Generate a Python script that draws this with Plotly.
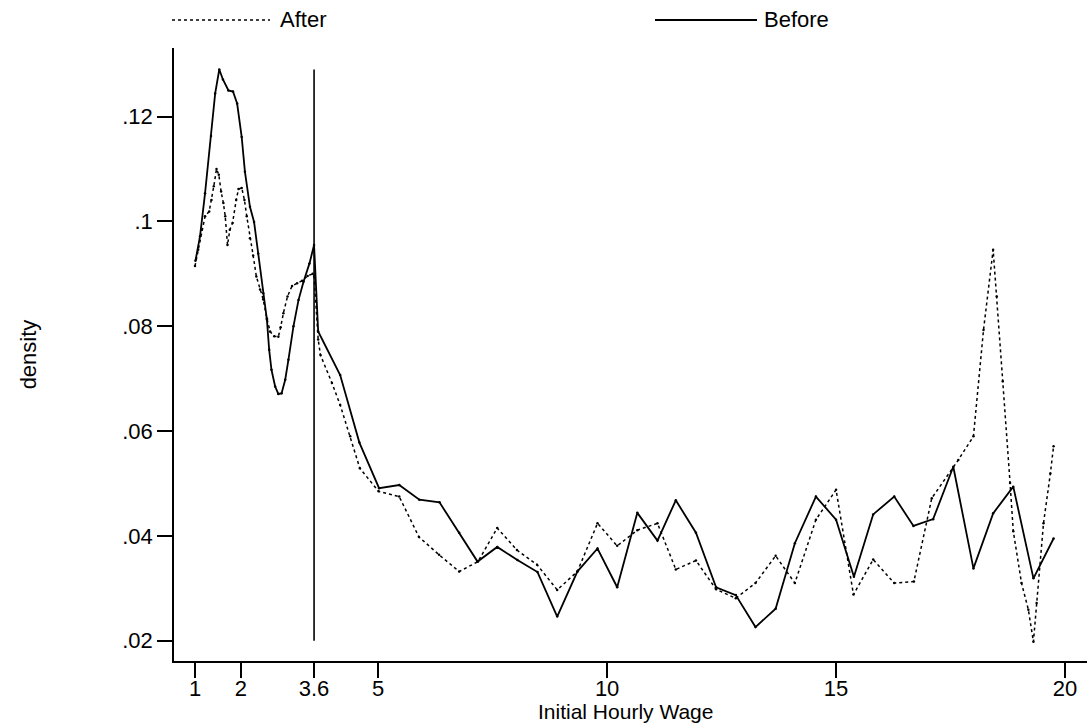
import plotly.graph_objects as go

# Before (solid)
before_x = [1.01, 1.11, 1.22, 1.35, 1.44, 1.53, 1.61, 1.73, 1.83, 1.92, 2.02, 2.09, 2.20, 2.29, 2.38,
            2.49, 2.57, 2.62, 2.67, 2.75, 2.82, 2.89, 2.97, 3.04, 3.15, 3.26, 3.37, 3.50, 3.60,
            3.69, 4.17, 4.59, 5.02, 5.46, 5.90, 6.34, 6.77, 7.17, 7.60, 8.04, 8.48, 8.91, 9.35,
            9.79, 10.22, 10.66, 11.10, 11.50, 11.94, 12.38, 12.81, 13.24, 13.68, 14.10, 14.56,
            15.00, 15.39, 15.81, 16.27, 16.69, 17.12, 17.56, 18.00, 18.43, 18.87, 19.31, 19.75]
before_y = [0.0925, 0.0972, 0.1054, 0.1163, 0.1244, 0.1290, 0.1271, 0.1250, 0.1248, 0.1225, 0.1161,
            0.1095, 0.1028, 0.0999, 0.0939, 0.0863, 0.0813, 0.0755, 0.0717, 0.0685, 0.0671, 0.0672,
            0.0698, 0.0736, 0.0800, 0.0850, 0.0885, 0.0920, 0.0955,
            0.0790, 0.0707, 0.0578, 0.0491, 0.0497, 0.0469, 0.0464, 0.0406, 0.0351, 0.0379, 0.0354,
            0.0331, 0.0246, 0.0332, 0.0376, 0.0302, 0.0444, 0.0391, 0.0468, 0.0406, 0.0302, 0.0287,
            0.0226, 0.0261, 0.0386, 0.0475, 0.0431, 0.0322, 0.0441, 0.0475, 0.0419, 0.0432, 0.0532,
            0.0338, 0.0443, 0.0494, 0.0319, 0.0395]

# After (dashed)
after_x = [1.00, 1.07, 1.15, 1.22, 1.31, 1.36, 1.41, 1.47, 1.52, 1.57, 1.62, 1.66, 1.71, 1.76, 1.82,
           1.90, 1.95, 2.02, 2.08, 2.13, 2.20, 2.27, 2.34, 2.42, 2.49, 2.57, 2.64, 2.73, 2.82, 2.87,
           2.93, 3.02, 3.12, 3.23, 3.34, 3.46, 3.57, 3.60,
           3.69, 3.74, 3.99, 4.17, 4.39, 4.60, 5.01, 5.46, 5.89, 6.33, 6.77, 7.18, 7.60, 8.03, 8.47,
           8.91, 9.35, 9.79, 10.22, 10.66, 11.10, 11.50, 11.94, 12.38, 12.81, 13.24, 13.68, 14.10,
           14.56, 15.00, 15.38, 15.81, 16.27, 16.70, 17.09, 17.67, 18.00, 18.22, 18.43, 18.51,
           18.64, 18.80, 18.87, 19.05, 19.20, 19.31, 19.38, 19.53, 19.68, 19.75]
after_y = [0.0915, 0.0946, 0.0984, 0.1010, 0.1019, 0.1041, 0.1067, 0.1100, 0.1089, 0.1057, 0.1035,
           0.1010, 0.0955, 0.0984, 0.0997, 0.1041, 0.1062, 0.1064, 0.1041, 0.1010, 0.0968, 0.0935,
           0.0895, 0.0870, 0.0851, 0.0815, 0.0790, 0.0781, 0.0780, 0.0798, 0.0825, 0.0857, 0.0877,
           0.0882, 0.0887, 0.0896, 0.0900, 0.0896,
           0.0775, 0.0745, 0.0692, 0.0650, 0.0590, 0.0529, 0.0485, 0.0475, 0.0398, 0.0364, 0.0332,
           0.0351, 0.0415, 0.0373, 0.0345, 0.0297, 0.0332, 0.0424, 0.0381, 0.0411, 0.0424, 0.0336,
           0.0353, 0.0298, 0.0281, 0.0310, 0.0362, 0.0310, 0.0431, 0.0488, 0.0288, 0.0355, 0.0310,
           0.0313, 0.0472, 0.0545, 0.0590, 0.0793, 0.0946, 0.0857, 0.0695, 0.0501, 0.0409, 0.0310,
           0.0259, 0.0198, 0.0272, 0.0424, 0.0519, 0.0571]

cutoff_x = [3.6, 3.6]
cutoff_y = [0.02, 0.129]

x_ticks = [1, 2, 3.6, 5, 10, 15, 20]
x_ticklabels = ["1", "2", "3.6", "5", "10", "15", "20"]
y_ticks = [0.02, 0.04, 0.06, 0.08, 0.10, 0.12]
y_ticklabels = [".02", ".04", ".06", ".08", ".1", ".12"]

FONT = "Liberation Sans, Arial, sans-serif"
FS = 22

fig = go.Figure()
fig.add_trace(go.Scatter(x=after_x, y=after_y, mode="lines+markers", name="After",
                         line=dict(color="black", width=1.5, dash="3px,3px"),
                         marker=dict(color="black", size=2.5), showlegend=False))
fig.add_trace(go.Scatter(x=before_x, y=before_y, mode="lines+markers", name="Before",
                         line=dict(color="black", width=1.8),
                         marker=dict(color="black", size=2.5), showlegend=False))
fig.add_trace(go.Scatter(x=cutoff_x, y=cutoff_y, mode="lines",
                         line=dict(color="black", width=1.6), showlegend=False))

# legend and x title drawn manually (paper coordinates)
W, H = 1090, 726
L, R, T, B = 174, 3, 48, 65
pw, ph = W - L - R, H - T - B
def px(x): return (x - L) / pw
def py(y): return (H - B - y) / ph

fig.add_shape(type="line", xref="paper", yref="paper", x0=px(172), x1=px(270), y0=py(20), y1=py(20),
              line=dict(color="black", width=1.5, dash="3px,3px"))
fig.add_shape(type="line", xref="paper", yref="paper", x0=px(655), x1=px(757), y0=py(20), y1=py(20),
              line=dict(color="black", width=1.8))
fig.add_annotation(xref="paper", yref="paper", x=px(278), y=py(20), text="After", showarrow=False,
                   xanchor="left", yanchor="middle", font=dict(family=FONT, size=FS, color="black"))
fig.add_annotation(xref="paper", yref="paper", x=px(762), y=py(20), text="Before", showarrow=False,
                   xanchor="left", yanchor="middle", font=dict(family=FONT, size=FS, color="black"))
fig.add_annotation(xref="paper", yref="paper", x=px(625), y=py(711), text="Initial Hourly Wage",
                   showarrow=False, xanchor="center", yanchor="middle",
                   font=dict(family=FONT, size=21, color="black"))

fig.update_layout(
    width=W, height=H,
    margin=dict(l=L, r=R, t=T, b=B),
    plot_bgcolor="white", paper_bgcolor="white",
    font=dict(family=FONT, size=FS, color="black"),
    xaxis=dict(range=[0.5414, 20.48], tickmode="array", tickvals=x_ticks, ticktext=x_ticklabels,
               showgrid=False, zeroline=False, showline=True, linecolor="black", linewidth=1.5,
               ticks="outside", ticklen=15, tickwidth=1.5, tickcolor="black",
               ticklabelstandoff=-8),
    yaxis=dict(range=[0.01613, 0.1331], tickmode="array", tickvals=y_ticks, ticktext=y_ticklabels,
               showgrid=False, zeroline=False, showline=True, linecolor="black", linewidth=1.5,
               ticks="outside", ticklen=15, tickwidth=1.5, tickcolor="black",
               title=dict(text="density", standoff=80, font=dict(size=FS))),
)

fig.write_html("out.html")
